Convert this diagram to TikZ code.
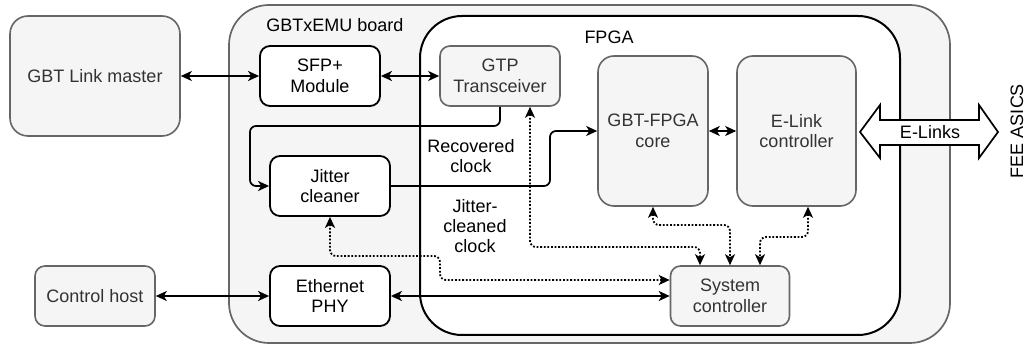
\documentclass[tikz,border=0pt]{standalone}
\usepackage{fontspec}
\setmainfont{Liberation Sans}
\usetikzlibrary{arrows.meta,calc}
\definecolor{boxfill}{HTML}{F5F5F5}
\definecolor{boxline}{HTML}{666666}
\definecolor{boxtext}{HTML}{333333}
\tikzset{
  every node/.style={font=\fontsize{9}{10.2}\selectfont, align=center},
  graybox/.style={draw=boxline, fill=boxfill, text=boxtext, line width=0.8pt, rounded corners=5pt, inner sep=0pt},
  whitebox/.style={draw=black, fill=white, text=black, line width=0.9pt, rounded corners=5pt, inner sep=0pt},
  conn/.style={line width=0.85pt, rounded corners=3pt, arrows={Stealth[length=5.5pt,width=5pt,inset=1.5pt]-Stealth[length=5.5pt,width=5pt,inset=1.5pt]}},
  oneway/.style={line width=0.85pt, rounded corners=3pt, -{Stealth[length=5.5pt,width=5pt,inset=1.5pt]}},
  dotconn/.style={conn, line width=0.9pt, dash pattern=on 0.9pt off 0.9pt},
  plain/.style={text=black, inner sep=0pt},
}
\begin{document}
\begin{tikzpicture}[x=0.5pt,y=-0.5pt]
\useasboundingbox (0,0) rectangle (1029,347);
% containers
\draw[draw=boxline, fill=boxfill, line width=0.85pt, rounded corners=20pt] (229,5) rectangle (950,343);
\draw[draw=black, fill=white, line width=1pt, rounded corners=21pt] (420,16) rectangle (900,335);
\node[plain] (boardlbl) at (335,25) {GBTxEMU board};
\node[plain] (fpgalbl) at (609,37) {FPGA};
% boxes
\node[graybox, rounded corners=9pt, minimum width=85pt, minimum height=60pt] (master) at (95,76) {GBT Link master};
\node[whitebox, minimum width=60pt, minimum height=30pt] (sfp) at (320,76) {SFP+\\Module};
\node[graybox, minimum width=60pt, minimum height=30pt] (gtp) at (500,76) {GTP\\Transceiver};
\node[whitebox, minimum width=60pt, minimum height=30pt] (jit) at (330,186) {Jitter\\cleaner};
\node[whitebox, minimum width=60pt, minimum height=30pt] (eth) at (330,296) {Ethernet\\PHY};
\node[graybox, minimum width=60pt, minimum height=30pt] (host) at (95,296) {Control host};
\node[graybox, rounded corners=8pt, minimum width=55pt, minimum height=75pt] (core) at (653,131) {GBT-FPGA\\core};
\node[graybox, rounded corners=8pt, minimum width=59.5pt, minimum height=75pt] (elc) at (796.5,131) {E-Link\\controller};
\node[graybox, minimum width=59.5pt, minimum height=30pt] (sys) at (730,296) {System\\controller};
% labels
\node[plain] (reclbl) at (471,156) {Recovered\\clock};
\node[plain] (jclbl) at (475,226) {Jitter-\\cleaned\\clock};
% E-Links double arrow
\draw[fill=white, line width=0.85pt, line join=miter] (860,132) -- (880,105) -- (880,120) -- (979,120) -- (979,105) -- (998,132) -- (979,158) -- (979,145) -- (880,145) -- (880,158) -- cycle;
\node[plain] (elinks) at (930,132) {E-Links};
\node[plain, rotate=90] (fee) at (1017,131) {FEE ASICS};
% connectors
\draw[conn] (master.east) -- (sfp.west);
\draw[conn] (sfp.east) -- (gtp.west);
\draw[oneway] (gtp.south) -- (500,126) -- (250,126) |- (jit.west);
\draw[oneway] (jit.east) -- (550,186) |- (core.west);
\draw[conn] (core.east) -- (elc.west);
\draw[conn] (host.east) -- (eth.west);
\draw[conn] (eth.east) -- (sys.west);
\draw[dotconn] ($(gtp.south)+(30,0)$) -- (530,247) -- (700,247) -- ($(sys.north)+(-30,0)$);
\draw[dotconn] (jit.south) -- (330,256) -- (440,256) -- (440,280) -- ($(sys.west)+(0,-16)$);
\draw[dotconn] (core.south) -- (653,225) -- (730,225) -- (sys.north);
\draw[dotconn] ($(elc.south)+(11.5,0)$) -- (808,237) -- (760,237) -- ($(sys.north)+(30,0)$);
\end{tikzpicture}
\end{document}
